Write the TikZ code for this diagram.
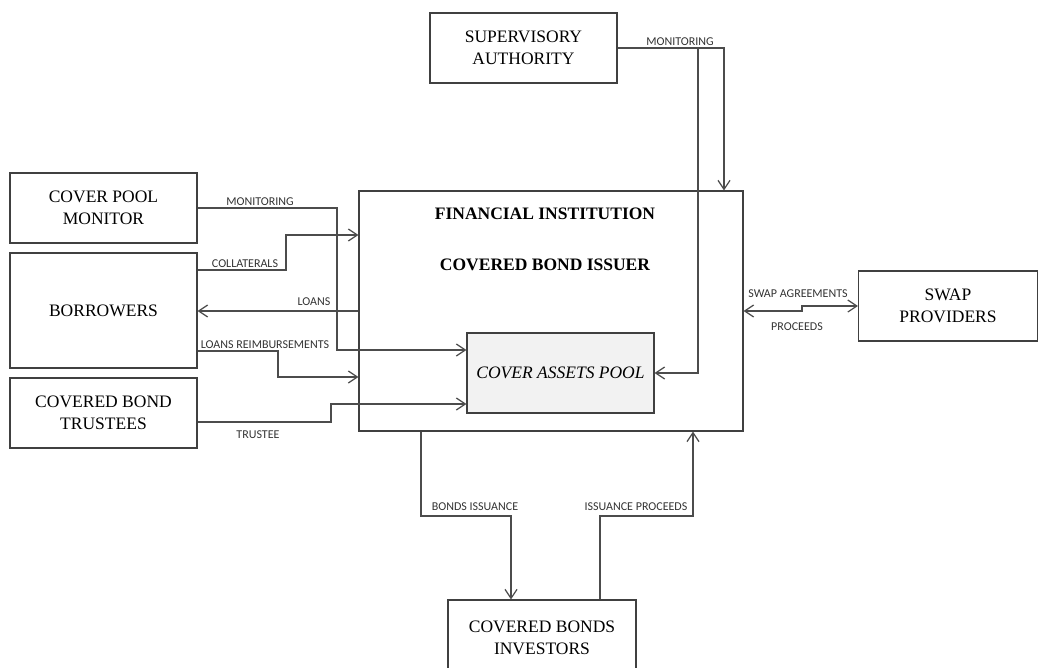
\documentclass[tikz,border=0pt]{standalone}
\usepackage{fontspec}
\setmainfont{Liberation Serif}
\newfontfamily\lblfont{Carlito}
\usetikzlibrary{arrows.meta,positioning}

\begin{document}
\begin{tikzpicture}[x=1pt,y=-1pt,
	box/.style={draw=black!75,line width=1.2pt,align=center,inner sep=0pt,font=\fontsize{17.5}{21.5}\selectfont},
	flow/.style={draw=black!70,line width=1.2pt,-{Straight Barb[length=9pt,width=12pt]}},
	lbl/.style={font=\lblfont\fontsize{12}{14}\selectfont,text=black!80,inner sep=0pt},
	ttl/.style={font=\fontsize{17.5}{21}\selectfont\bfseries,inner sep=0pt}]
	\clip (0,0) rectangle (1038,668);
	% boxes
	\node[box,minimum width=187pt,minimum height=70pt] (sup) at (523.5,48) {SUPERVISORY\\AUTHORITY};
	\node[box,minimum width=187pt,minimum height=70pt] (cpm) at (103.5,208) {COVER POOL\\MONITOR};
	\node[box,minimum width=187pt,minimum height=115pt] (bor) at (103.5,310.5) {BORROWERS};
	\node[box,minimum width=187pt,minimum height=70pt] (cbt) at (103.5,413) {COVERED BOND\\TRUSTEES};
	\node[box,minimum width=384pt,minimum height=240pt] (fi) at (551,311) {};
	\node[ttl,below=17pt of fi.north,xshift=-6pt] (t1) {FINANCIAL INSTITUTION};
	\node[ttl,below=39pt of t1] (t2) {COVERED BOND ISSUER};
	\node[box,fill=black!5,minimum width=187pt,minimum height=80pt,font=\fontsize{17.5}{21.5}\selectfont\itshape] (pool) at (560.5,373) {COVER ASSETS POOL};
	\node[box,minimum width=179pt,minimum height=70pt] (swp) at (948,306) {SWAP\\PROVIDERS};
	\node[box,minimum width=188pt,minimum height=76pt] (inv) at (542,638) {COVERED BONDS\\INVESTORS};
	% bends
	\coordinate (b1) at (337,350);
	\coordinate (b2) at (286,235);
	\coordinate (b3) at (278,377);
	\coordinate (b4) at (331,404);
	\coordinate (b5) at (698,373);
	\coordinate (b6) at (724,100);
	\coordinate (b7) at (421,516);
	\coordinate (b8) at (693,516);
	\coordinate (b9) at (802,308);
	% connectors
	\draw[flow] (sup.east) -| (b6 |- fi.north);
	\draw[flow] (b5 |- sup.east) -- (b5) -- (b5 -| pool.east);
	\draw[flow] (cpm.east) -| (b1) -- (b1 -| pool.west);
	\draw[flow] ([yshift=40.5pt]bor.east) -| (b2) -- (b2 -| fi.west);
	\draw[flow] (fi.west) -- (fi.west -| bor.east);
	\draw[flow] ([yshift=-40.5pt]bor.east) -| (b3) -- (b3 -| fi.west);
	\draw[flow] ([yshift=-9pt]cbt.east) -| (b4) -- (b4 -| pool.west);
	\draw[flow] (b7 |- fi.south) -- (b7) -| ([xshift=-31pt]inv.north);
	\draw[flow] ([xshift=58pt]inv.north) |- (b8) -- (b8 |- fi.south);
	\draw[flow,{Straight Barb[length=9pt,width=12pt]}-{Straight Barb[length=9pt,width=12pt]}] (fi.east) -| (b9) |- (swp.west);
	% labels
	\foreach \p/\t in {{(680,42)}/MONITORING, {(260,202)}/MONITORING, {(245,264)}/COLLATERALS,
		{(314,302)}/LOANS, {(265,345)}/LOANS REIMBURSEMENTS, {(258,435)}/TRUSTEE,
		{(475,507)}/BONDS ISSUANCE, {(636,507)}/ISSUANCE PROCEEDS,
		{(798,294)}/SWAP AGREEMENTS, {(797,327)}/PROCEEDS}{
		\node[lbl] at \p {\t};
	}
\end{tikzpicture}
\end{document}
